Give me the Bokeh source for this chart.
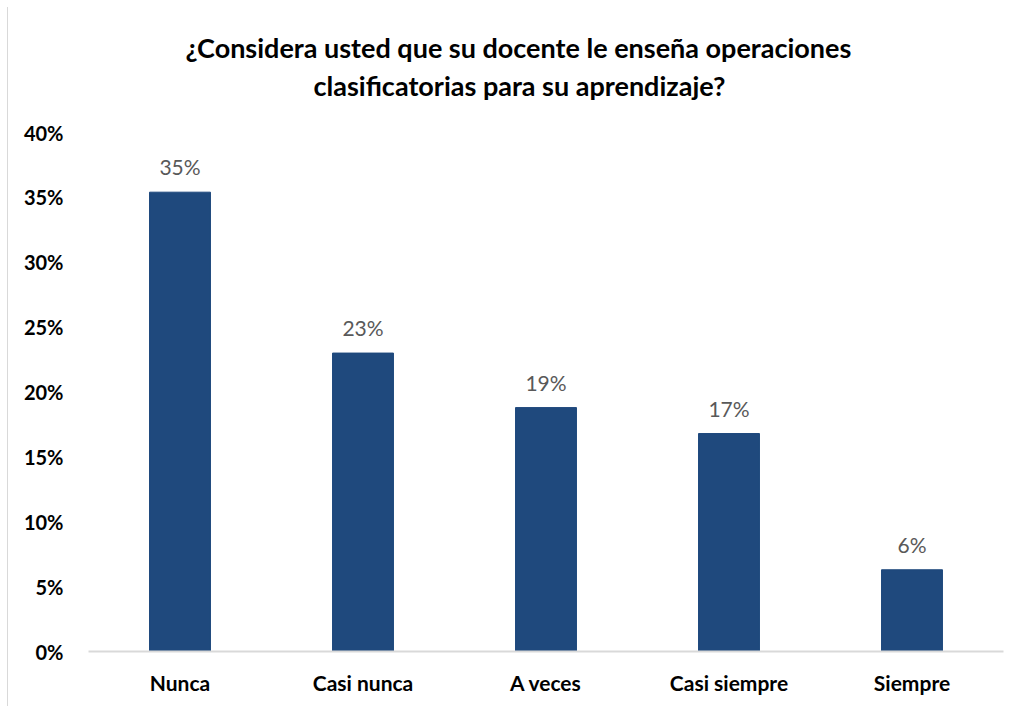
from bokeh.plotting import figure
from bokeh.models import NumeralTickFormatter, ColumnDataSource, Title, FixedTicker
from bokeh.core.properties import value
from bokeh.embed import file_html
from bokeh.resources import INLINE

categories = ["Nunca", "Casi nunca", "A veces", "Casi siempre", "Siempre"]
values = [0.354, 0.230, 0.188, 0.168, 0.063]
labels = ["35%", "23%", "19%", "17%", "6%"]
y_ticks = [0, 0.05, 0.10, 0.15, 0.20, 0.25, 0.30, 0.35, 0.40]
title_lines = ["¿Considera usted que su docente le enseña operaciones",
               "clasificatorias para su aprendizaje?"]

src = ColumnDataSource(dict(cat=categories, val=values, lab=labels))

W, H = 1012, 699
p = figure(x_range=categories, y_range=(0, 0.40), width=W, height=H,
           output_backend="svg", toolbar_location=None,
           min_border_left=80, min_border_right=17, min_border_top=125, min_border_bottom=55)
p.styles = {"border-left": "1px solid #d9d9d9", "margin-left": "7px", "margin-top": "7px"}

p.vbar(x="cat", top="val", width=0.333, source=src, color="#1F497D")
p.text(x="cat", y="val", text="lab", source=src, text_align="center",
       text_baseline="bottom", y_offset=-13, text_font=value("Lato"),
       text_font_size="21px", text_color="#595959")

# spacer panel between the frame and the title lines
p.add_layout(Title(text=" ", text_font_size="1px", standoff=28), "above")

# Title: second line first (nearest the frame), then first line above it
title_offsets = [97, 225]
title_standoffs = [6, 0]
for i in (1, 0):
    t = Title(text=title_lines[i], align="left", offset=title_offsets[i],
              standoff=title_standoffs[i], text_font="Lato", text_font_size="27px",
              text_font_style="bold", text_color="#000000")
    p.add_layout(t, "above")

p.xgrid.visible = False
p.ygrid.visible = False
p.outline_line_color = None

p.yaxis.ticker = FixedTicker(ticks=y_ticks)
p.yaxis.formatter = NumeralTickFormatter(format="0%")
p.yaxis.axis_line_color = None
p.yaxis.major_tick_line_color = None
p.yaxis.minor_tick_line_color = None
p.yaxis.major_label_standoff = 19
p.yaxis.major_label_text_font = "Lato"
p.yaxis.major_label_text_font_size = "20px"
p.yaxis.major_label_text_font_style = "bold"
p.yaxis.major_label_text_color = "#000000"

p.xaxis.axis_line_color = "#D9D9D9"
p.xaxis.axis_line_width = 2
p.xaxis.major_tick_line_color = None
p.xaxis.minor_tick_line_color = None
p.xaxis.major_label_standoff = 12
p.xaxis.major_label_text_font = "Lato"
p.xaxis.major_label_text_font_size = "21px"
p.xaxis.major_label_text_font_style = "bold"
p.xaxis.major_label_text_color = "#000000"

p.x_range.range_padding = 0

open("out.html", "w").write(file_html(p, INLINE))
